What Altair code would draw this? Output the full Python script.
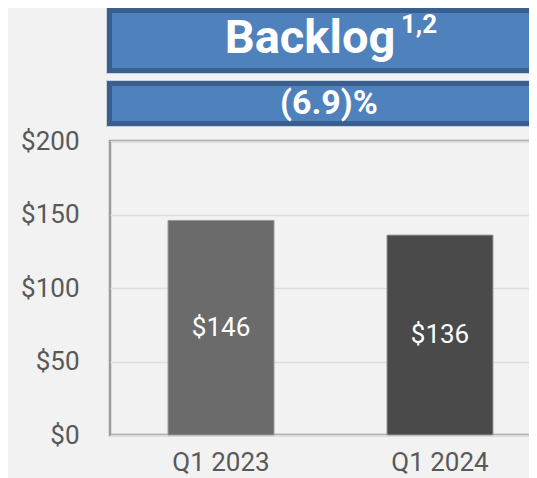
import altair as alt
import pandas as pd

# ---- data ----
quarters = ["Q1 2023", "Q1 2024"]
backlog = [146, 136]
bar_labels = ["$146", "$136"]
bar_colors = ["#6b6b6b", "#4a4a4a"]
y_ticks = [0, 50, 100, 150, 200]
title_main = "Backlog"
title_sup = "1,2"
change_label = "(6.9)%"

df = pd.DataFrame({"quarter": quarters, "value": backlog, "label": bar_labels})
one = pd.DataFrame({"k": [0]})

FONT = "Roboto"
W, H = 441, 294

xenc = alt.X("quarter:N", sort=quarters,
             scale=alt.Scale(paddingInner=0.516, paddingOuter=0.265),
             axis=alt.Axis(title=None, labelAngle=0, labelFontSize=26, labelColor="#595959",
                           labelFont=FONT, ticks=False, domain=False, labelPadding=14, grid=False))
yscale = alt.Scale(domain=[0, 200], nice=False)
yenc = alt.Y("value:Q", scale=yscale,
             axis=alt.Axis(title=None, values=y_ticks, labelExpr="'$' + datum.value",
                           labelFontSize=26, labelColor="#595959", labelFont=FONT,
                           ticks=False, domain=False, labelPadding=31,
                           grid=True, gridColor="#dedede", gridWidth=1.5))

bars = alt.Chart(df).mark_bar(stroke="#9a9a9a", strokeWidth=1).encode(
    x=xenc, y=yenc,
    color=alt.Color("quarter:N", scale=alt.Scale(domain=quarters, range=bar_colors), legend=None),
)

labels = alt.Chart(df).transform_calculate(mid="datum.value / 2").mark_text(
    color="white", fontSize=26, font=FONT, baseline="middle", align="center"
).encode(
    x=alt.X("quarter:N", sort=quarters),
    y=alt.Y("mid:Q", scale=yscale),
    text="label:N",
)

def box(y_top, y_bot):
    outer = alt.Chart(one).mark_rect(fill="#c8d1de").encode(
        x=alt.value(-4), x2=alt.value(442), y=alt.value(y_top - 3.5), y2=alt.value(y_bot + 3.5))
    inner = alt.Chart(one).mark_rect(fill="#4f81bd", stroke="#3a5f8e", strokeWidth=5).encode(
        x=alt.value(-0.5), x2=alt.value(438.5), y=alt.value(y_top), y2=alt.value(y_bot))
    return [outer, inner]

t_main = alt.Chart(one).mark_text(text=title_main, color="white", fontSize=47, fontWeight="bold",
                                  font=FONT, align="center", baseline="alphabetic").encode(
    x=alt.value(200), y=alt.value(-87.7))
t_sup = alt.Chart(one).mark_text(text=title_sup, color="white", fontSize=26, fontWeight="bold",
                                 font=FONT, align="center", baseline="alphabetic").encode(
    x=alt.value(309), y=alt.value(-108.3))
t_chg = alt.Chart(one).mark_text(text=change_label, color="white", fontSize=34, fontWeight="bold",
                                 font=FONT, align="center", baseline="alphabetic").encode(
    x=alt.value(219), y=alt.value(-27.3))

chart = alt.layer(
    *box(-130.5, -70.5), *box(-57.5, -17.5), t_main, t_sup, t_chg, bars, labels
).properties(
    width=W, height=H,
    background="#f2f2f2",
    autosize=alt.AutoSizeParams(type="none"),
    padding={"left": 102, "top": 133, "right": -22, "bottom": 43},
).configure_view(
    stroke="#9b9b9b", strokeWidth=2.5, fill="#f2f2f2"
)

chart.save("out.html", embed_options={"renderer": "svg", "actions": False})
